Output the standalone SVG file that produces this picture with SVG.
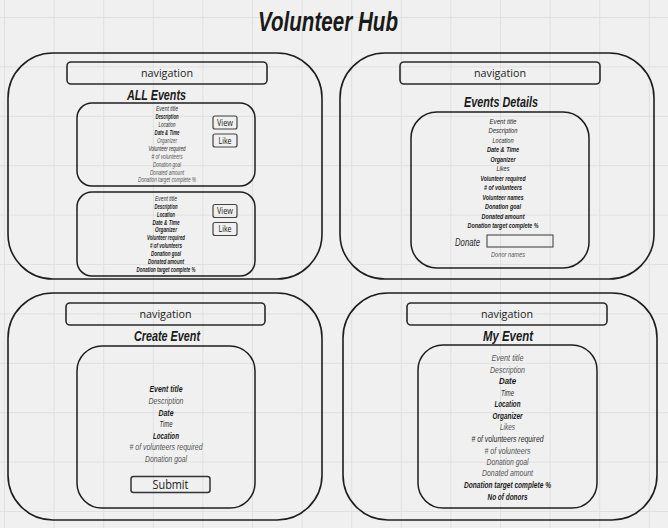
<svg xmlns="http://www.w3.org/2000/svg" width="668" height="528" viewBox="0 0 668 528">
<style>
.panel{fill:none;stroke:#1e1e1e;stroke-width:1.6}
.nav{fill:none;stroke:#2a2a2a;stroke-width:1.6}
.card{fill:none;stroke:#1e1e1e;stroke-width:1.5}
.btn{fill:none;stroke:#444;stroke-width:1.2}
.hw{font-family:"Liberation Sans","DejaVu Sans",sans-serif;font-style:italic;text-anchor:middle}
.b{font-weight:bold;fill:#1a1a1a}
.m{fill:#2a2a2a}
.l{fill:#555}
.ui{font-family:"Open Sans","Liberation Sans",sans-serif;fill:#222;text-anchor:middle}
.s1{font-size:6.5px}
.s2{font-size:8px}
.s3{font-size:9.5px}
.hd{font-size:15px;font-weight:bold;fill:#1a1a1a}
</style>
<defs>
<pattern id="grid" x="4" y="17" width="49.6" height="49.4" patternUnits="userSpaceOnUse">
<path d="M0.5 0V49.4M0 0.5H49.6" fill="none" stroke="#e0e0e0" stroke-width="1"/>
</pattern>
</defs>
<rect width="668" height="528" fill="#f0f0f0"/>
<rect width="668" height="528" fill="url(#grid)"/>
<text id="title" class="hw" x="328" y="30.5" font-size="28" font-weight="bold" fill="#1a1a1a" textLength="140" lengthAdjust="spacingAndGlyphs">Volunteer Hub</text>

<g id="all-events">
<rect class="panel" x="8" y="53" width="314" height="226" rx="45"/>
<rect class="nav" x="67" y="62" width="200" height="22" rx="4"/>
<text class="ui" x="167" y="77" font-size="11" textLength="52" lengthAdjust="spacingAndGlyphs">navigation</text>
<text class="hw hd" x="156.5" y="100" textLength="59" lengthAdjust="spacingAndGlyphs">ALL Events</text>
<g id="event-card-1">
<rect class="card" x="77" y="103" width="178" height="83" rx="15"/>
<g class="hw s1">
<text class="m" x="167" y="111" textLength="22" lengthAdjust="spacingAndGlyphs">Event title</text>
<text class="b" x="167" y="119" textLength="23" lengthAdjust="spacingAndGlyphs">Description</text>
<text class="m" x="167" y="126.6" textLength="17" lengthAdjust="spacingAndGlyphs">Location</text>
<text class="b" x="167" y="134.6" textLength="25" lengthAdjust="spacingAndGlyphs">Date &amp; Time</text>
<text class="l" x="167" y="143" textLength="20" lengthAdjust="spacingAndGlyphs">Organizer</text>
<text class="m" x="167" y="151" textLength="37" lengthAdjust="spacingAndGlyphs">Volunteer required</text>
<text class="l" x="167" y="159" textLength="31" lengthAdjust="spacingAndGlyphs"># of volunteers</text>
<text class="l" x="167" y="167" textLength="28" lengthAdjust="spacingAndGlyphs">Donation goal</text>
<text class="l" x="167" y="174.6" textLength="34" lengthAdjust="spacingAndGlyphs">Donated amount</text>
<text class="l" x="167" y="182.3" textLength="58" lengthAdjust="spacingAndGlyphs">Donation target complete %</text>
</g>
<rect class="btn" x="213" y="116" width="24" height="13" rx="2"/>
<text class="ui" x="225" y="125.6" font-size="8.5" textLength="16" lengthAdjust="spacingAndGlyphs">View</text>
<rect class="btn" x="213" y="134" width="24" height="13" rx="2"/>
<text class="ui" x="225" y="143.6" font-size="8.5" textLength="13" lengthAdjust="spacingAndGlyphs">Like</text>
</g>
<g id="event-card-2">
<rect class="card" x="77" y="192" width="178" height="84" rx="15"/>
<g class="hw s1">
<text class="m" x="166" y="200.6" textLength="22" lengthAdjust="spacingAndGlyphs">Event title</text>
<text class="b" x="166" y="208.6" textLength="23" lengthAdjust="spacingAndGlyphs">Description</text>
<text class="b" x="166" y="216.5" textLength="18" lengthAdjust="spacingAndGlyphs">Location</text>
<text class="b" x="166" y="224.5" textLength="27" lengthAdjust="spacingAndGlyphs">Date &amp; Time</text>
<text class="b" x="166" y="232.4" textLength="22" lengthAdjust="spacingAndGlyphs">Organizer</text>
<text class="b" x="166" y="240.4" textLength="38" lengthAdjust="spacingAndGlyphs">Volunteer required</text>
<text class="b" x="166" y="248.3" textLength="32" lengthAdjust="spacingAndGlyphs"># of volunteers</text>
<text class="b" x="166" y="256.3" textLength="30" lengthAdjust="spacingAndGlyphs">Donation goal</text>
<text class="b" x="166" y="264.3" textLength="36" lengthAdjust="spacingAndGlyphs">Donated amount</text>
<text class="b" x="166" y="272.3" textLength="59" lengthAdjust="spacingAndGlyphs">Donation target complete %</text>
</g>
<rect class="btn" x="213" y="204.5" width="24" height="13" rx="2"/>
<text class="ui" x="225" y="214" font-size="8.5" textLength="16" lengthAdjust="spacingAndGlyphs">View</text>
<rect class="btn" x="213" y="222.5" width="24" height="13" rx="2"/>
<text class="ui" x="225" y="232" font-size="8.5" textLength="13" lengthAdjust="spacingAndGlyphs">Like</text>
</g>
</g>

<g id="event-details">
<rect class="panel" x="340" y="53" width="314" height="226" rx="45"/>
<rect class="nav" x="400" y="62" width="200" height="22" rx="4"/>
<text class="ui" x="500" y="77" font-size="11" textLength="52" lengthAdjust="spacingAndGlyphs">navigation</text>
<text class="hw hd" x="501" y="107" textLength="74" lengthAdjust="spacingAndGlyphs">Events Details</text>
<rect class="card" x="411" y="112" width="178" height="156" rx="26"/>
<g class="hw s2">
<text class="m" x="503" y="123.5" textLength="27" lengthAdjust="spacingAndGlyphs">Event title</text>
<text class="m" x="503" y="133.1" textLength="29" lengthAdjust="spacingAndGlyphs">Description</text>
<text class="m" x="503" y="142.8" textLength="21" lengthAdjust="spacingAndGlyphs">Location</text>
<text class="b" x="503" y="152.1" textLength="32" lengthAdjust="spacingAndGlyphs">Date &amp; Time</text>
<text class="b" x="503" y="161.8" textLength="25" lengthAdjust="spacingAndGlyphs">Organizer</text>
<text class="m" x="503" y="171.1" textLength="13" lengthAdjust="spacingAndGlyphs">Likes</text>
<text class="b" x="503" y="180.8" textLength="45" lengthAdjust="spacingAndGlyphs">Volunteer required</text>
<text class="b" x="503" y="190.1" textLength="38" lengthAdjust="spacingAndGlyphs"># of volunteers</text>
<text class="b" x="503" y="199.8" textLength="41" lengthAdjust="spacingAndGlyphs">Volunteer names</text>
<text class="b" x="503" y="209.1" textLength="36" lengthAdjust="spacingAndGlyphs">Donation goal</text>
<text class="b" x="503" y="218.8" textLength="43" lengthAdjust="spacingAndGlyphs">Donated amount</text>
<text class="b" x="503" y="228.1" textLength="71" lengthAdjust="spacingAndGlyphs">Donation target complete %</text>
</g>
<text class="hw m" x="467.5" y="245.5" font-size="11" textLength="25" lengthAdjust="spacingAndGlyphs">Donate</text>
<rect x="487" y="235" width="66" height="12" fill="none" stroke="#555" stroke-width="1.2"/>
<text class="hw l s1" x="508" y="257.3" textLength="34" lengthAdjust="spacingAndGlyphs">Donor names</text>
</g>

<g id="create-event">
<rect class="panel" x="8" y="293" width="314" height="227" rx="45"/>
<rect class="nav" x="66" y="303" width="199" height="22" rx="4"/>
<text class="ui" x="165.5" y="318" font-size="11.5" textLength="52" lengthAdjust="spacingAndGlyphs">navigation</text>
<text class="hw hd" x="167" y="341" font-size="14" textLength="66" lengthAdjust="spacingAndGlyphs">Create Event</text>
<rect class="card" x="77" y="346" width="178" height="162" rx="25"/>
<g class="hw s3">
<text class="b" x="166" y="392.3" textLength="33" lengthAdjust="spacingAndGlyphs">Event title</text>
<text class="l" x="166" y="404" textLength="35" lengthAdjust="spacingAndGlyphs">Description</text>
<text class="b" x="166" y="415.6" textLength="15" lengthAdjust="spacingAndGlyphs">Date</text>
<text class="m" x="166" y="427.3" textLength="13" lengthAdjust="spacingAndGlyphs">Time</text>
<text class="b" x="166" y="439" textLength="26" lengthAdjust="spacingAndGlyphs">Location</text>
<text class="l" x="166" y="450.3" textLength="73" lengthAdjust="spacingAndGlyphs"># of volunteers required</text>
<text class="l" x="166" y="462" textLength="42" lengthAdjust="spacingAndGlyphs">Donation goal</text>
</g>
<rect x="131" y="476.5" width="79" height="16" rx="2.5" fill="none" stroke="#333" stroke-width="1.5"/>
<text class="ui" x="170.5" y="489" font-size="12" textLength="36" lengthAdjust="spacingAndGlyphs">Submit</text>
</g>

<g id="my-event">
<rect class="panel" x="343" y="293" width="314" height="227" rx="45"/>
<rect class="nav" x="407" y="303" width="200" height="22" rx="4"/>
<text class="ui" x="507" y="318" font-size="11.5" textLength="52" lengthAdjust="spacingAndGlyphs">navigation</text>
<text class="hw hd" x="508" y="341" font-size="14" textLength="50" lengthAdjust="spacingAndGlyphs">My Event</text>
<rect class="card" x="418" y="345" width="179" height="163" rx="25"/>
<g class="hw s3">
<text class="l" x="507.5" y="361.3" textLength="32" lengthAdjust="spacingAndGlyphs">Event title</text>
<text class="l" x="507.5" y="372.6" textLength="35" lengthAdjust="spacingAndGlyphs">Description</text>
<text class="b" x="507.5" y="384" textLength="17" lengthAdjust="spacingAndGlyphs">Date</text>
<text class="m" x="507.5" y="395.6" textLength="13" lengthAdjust="spacingAndGlyphs">Time</text>
<text class="b" x="507.5" y="407.3" textLength="26" lengthAdjust="spacingAndGlyphs">Location</text>
<text class="b" x="507.5" y="419" textLength="30" lengthAdjust="spacingAndGlyphs">Organizer</text>
<text class="l" x="507.5" y="430.3" textLength="15" lengthAdjust="spacingAndGlyphs">Likes</text>
<text class="m" x="507.5" y="442" textLength="72" lengthAdjust="spacingAndGlyphs"># of volunteers required</text>
<text class="l" x="507.5" y="453.6" textLength="46" lengthAdjust="spacingAndGlyphs"># of volunteers</text>
<text class="l" x="507.5" y="465" textLength="42" lengthAdjust="spacingAndGlyphs">Donation goal</text>
<text class="l" x="507.5" y="476.3" textLength="51" lengthAdjust="spacingAndGlyphs">Donated amount</text>
<text class="b" x="507.5" y="488.3" textLength="87" lengthAdjust="spacingAndGlyphs">Donation target complete %</text>
<text class="b" x="507.5" y="500" textLength="40" lengthAdjust="spacingAndGlyphs">No of donors</text>
</g>
</g>
</svg>
